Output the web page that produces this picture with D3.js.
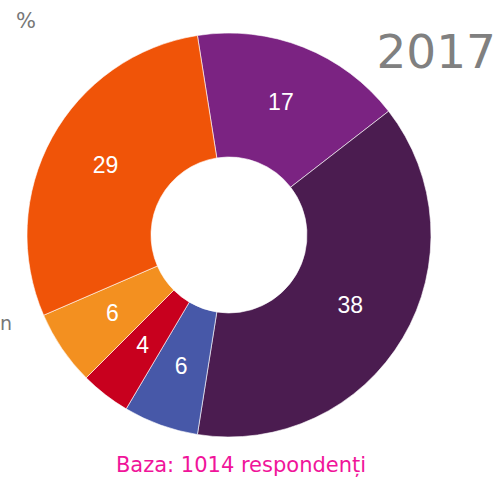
<!DOCTYPE html>
<html>
<head>
<meta charset="utf-8">
<script src="https://cdn.jsdelivr.net/npm/d3@7"></script>
<style>
  html, body { margin: 0; padding: 0; background: #fff; }
  svg { display: block; }
</style>
</head>
<body>
<svg id="chart" width="503" height="481"></svg>
<script>
// Share of respondents per answer, clockwise from the top
const categories = ["a", "b", "c", "d", "e", "f"];
const values = [17, 38, 6, 4, 6, 29];
const colors = ["#7b2382", "#4b1c50", "#4758a8", "#c8001e", "#f39020", "#f05408"];

const title = "2017";
const unitLabel = "%";
const baseNote = "Baza: 1014 respondenți";

const svg = d3.select("#chart");
const cx = 229, cy = 235, rOuter = 202, rInner = 78;
const startAngle = -9 * Math.PI / 180;

const pie = d3.pie()
  .value(d => d.value)
  .sort(null)
  .startAngle(startAngle)
  .endAngle(startAngle + 2 * Math.PI);

const data = categories.map((c, i) => ({ key: c, value: values[i], color: colors[i] }));
const arcs = pie(data);

const arc = d3.arc().innerRadius(rInner).outerRadius(rOuter);
const labelArc = d3.arc().innerRadius(141).outerRadius(141);

const g = svg.append("g").attr("transform", `translate(${cx},${cy})`);

g.selectAll("path.slice")
  .data(arcs)
  .join("path")
  .attr("class", "slice")
  .attr("d", arc)
  .attr("fill", d => d.data.color)
  .attr("stroke", "#fff")
  .attr("stroke-width", 0.6);

g.selectAll("text.val")
  .data(arcs)
  .join("text")
  .attr("class", "val")
  .attr("transform", d => {
    const [x, y] = labelArc.centroid(d);
    return `translate(${x},${y - 2})`;
  })
  .attr("text-anchor", "middle")
  .attr("dy", "0.36em")
  .attr("fill", "#fff")
  .attr("font-family", "Liberation Sans, Arial, sans-serif")
  .attr("font-size", 23)
  .text(d => d.data.value);

svg.append("text")
  .attr("x", 16).attr("y", 28)
  .attr("fill", "#777")
  .attr("font-family", "DejaVu Sans, Verdana, sans-serif")
  .attr("font-size", 21)
  .text(unitLabel);

svg.append("text")
  .attr("x", 496).attr("y", 68)
  .attr("text-anchor", "end")
  .attr("fill", "#808080")
  .attr("font-family", "DejaVu Sans, Verdana, sans-serif")
  .attr("font-size", 47)
  .text(title);

svg.append("text")
  .attr("x", 0).attr("y", 330)
  .attr("fill", "#777")
  .attr("font-family", "DejaVu Sans, Verdana, sans-serif")
  .attr("font-size", 19)
  .text("n");

svg.append("text")
  .attr("x", 241).attr("y", 472)
  .attr("text-anchor", "middle")
  .attr("fill", "#f0149a")
  .attr("font-family", "DejaVu Sans, Verdana, sans-serif")
  .attr("font-size", 21)
  .text(baseNote);
</script>
</body>
</html>
